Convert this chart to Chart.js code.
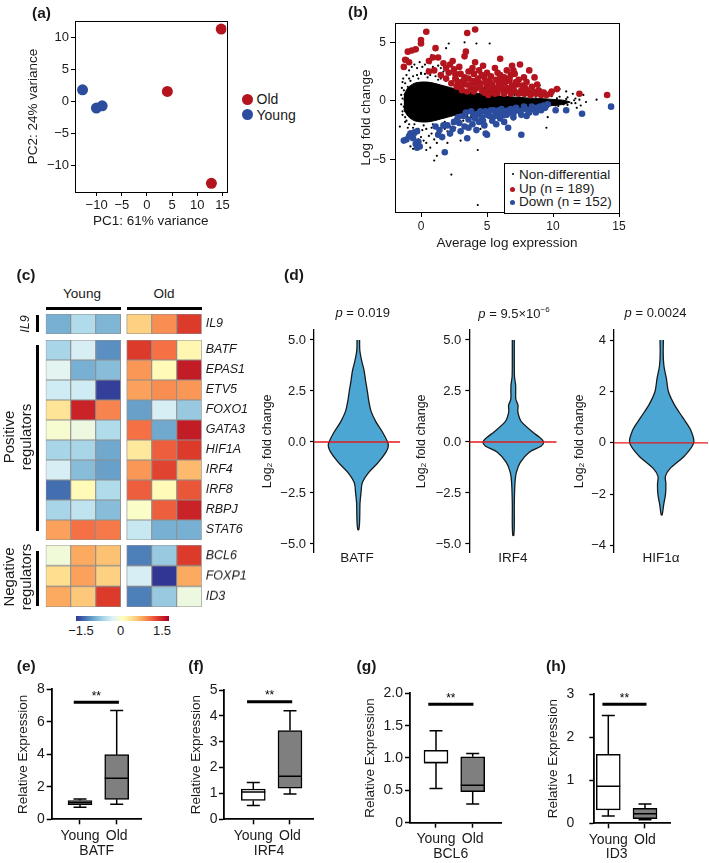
<!DOCTYPE html>
<html><head><meta charset="utf-8">
<script src="https://cdn.jsdelivr.net/npm/chart.js@4.4.1/dist/chart.umd.min.js"></script>
<style>
html,body{margin:0;padding:0;background:#fff}
body{width:709px;height:863px;position:relative;overflow:hidden;font-family:'Liberation Sans',Arial,Helvetica,sans-serif;color:#1a1a1a}
canvas{position:absolute}
.t{position:absolute;white-space:nowrap;transform:translate(-50%,-50%);line-height:1.15}
.l{position:absolute;white-space:nowrap;transform:translate(0,-50%);line-height:1}
.blk{position:absolute;background:#000}
</style></head><body>
<script>
// ---------------- DATA ----------------
// (a) PCA
const pcaOld = [[14.75, 11.25], [4.05, 1.55], [12.8, -12.75]];
const pcaYoung = [[-12.8, 1.8], [-10.05, -1.05], [-8.9, -0.7]];
const pcaXTicks = [-10, -5, 0, 5, 10, 15];
const pcaYTicks = [-10, -5, 0, 5, 10];
// (b) MA plot
const maCoreX     = [-1.3, -1.0, -0.5, 0.0, 0.5, 1.0, 1.5, 2.0, 2.5, 3.0, 4.0, 5.0, 6.0, 7.0, 8.0, 9.0, 10.0, 10.8, 11.3];
const maCoreUpper = [0.5, 1.1, 1.5, 1.6, 1.6, 1.5, 1.35, 1.2, 1.05, 0.9, 0.7, 0.52, 0.42, 0.33, 0.25, 0.2, 0.12, 0.05, -0.1];
const maCoreLower = [-0.7, -1.3, -1.7, -1.8, -1.8, -1.7, -1.55, -1.4, -1.25, -1.1, -0.92, -0.78, -0.68, -0.6, -0.55, -0.5, -0.4, -0.3, -0.1];
const maNonDiff = [
 [-1.5,0.5],[-1.5,-0.3],[-1.45,1.1],[-1.4,-0.9],[-1.2,1.5],[-1.2,-1.4],[-0.9,1.9],[-0.9,-2.0],[-0.6,2.1],[-0.6,-2.3],
 [-0.3,2.2],[-0.3,-2.4],[0.0,2.4],[0.1,-2.5],[0.3,2.3],[0.4,-2.4],[0.7,2.2],[0.8,-2.3],[1.1,2.1],[1.2,-2.2],
 [1.5,1.9],[1.6,-2.0],[1.9,1.7],[2.0,-1.9],[2.3,1.6],[2.4,-1.7],[2.7,1.45],[2.8,-1.55],[3.2,1.3],[3.3,-1.4],
 [3.7,1.15],[3.8,-1.25],[4.3,1.0],[4.4,-1.15],[4.9,0.85],[5.0,-1.0],[5.6,0.72],[5.7,-0.9],[6.3,0.62],[6.4,-0.85],
 [7.1,0.5],[7.2,-0.75],[7.9,0.42],[8.0,-0.7],[8.7,0.35],[8.8,-0.65],[9.5,0.3],[9.6,-0.55],[10.3,0.22],[10.4,-0.45],
 [11.0,0.15],[11.1,-0.35],[11.6,0.05],[11.7,-0.2],
 [-1.35,1.9],[-1.25,0.1],[-1.1,-1.7],[-0.8,1.7],[-0.5,-2.0],[-0.2,1.9],[0.2,-2.1],[0.5,2.0],[0.9,-2.0],[1.3,1.8],
 [1.8,-1.8],[2.2,1.45],[2.6,-1.5],[3.0,1.2],[3.5,-1.3],[4.1,0.9],[4.7,-1.05],[5.3,0.75],[6.0,-0.85],[6.7,0.55],
 [-1.4,1.6],[-1.3,0.9],[-1.4,0.2],[-1.3,-0.5],[-1.4,-1.2],[-1.2,-1.8],[-1.1,2.2],[-1.0,-2.3],[-0.9,2.6],[-0.8,-2.6],
 [-0.7,2.9],[-0.6,-3.0],[-0.5,3.1],[-0.4,-2.9],[-0.3,2.8],[-0.2,-3.3],[-0.1,3.3],[0.0,-3.1],[0.1,2.9],[0.2,-3.4],
 [0.3,3.1],[0.4,-3.6],[0.5,2.7],[0.6,-3.0],[0.7,3.2],[0.8,-2.8],[0.9,2.9],[1.0,-3.3],[1.1,2.6],[1.2,-2.9],
 [1.3,3.0],[1.4,-2.6],[1.5,2.8],[1.6,-2.9],[1.7,2.5],[1.8,-2.4],[1.9,2.6],[2.0,-2.6],[2.1,2.3],[2.2,-2.2],
 [2.3,2.4],[2.4,-2.0],[2.5,2.1],[2.6,-2.3],[2.8,1.9],[2.9,-1.8],[3.1,1.8],[3.2,-1.7],[3.4,1.6],[3.5,-1.5],
 [3.7,1.5],[3.8,-1.4],[4.0,1.4],[4.2,-1.3],[4.4,1.2],[4.6,-1.1],[4.8,1.1],[5.0,-1.0],[5.3,1.0],[5.5,-0.9],
 [5.8,0.9],[6.0,-0.9],[6.3,0.8],[6.6,-0.8],[6.9,0.7],[7.2,-0.7],[7.5,0.6],[7.8,-0.6],[8.1,0.6],[8.4,-0.6],
 [8.7,0.5],[9.0,-0.5],[9.3,0.45],[9.6,-0.45],[9.9,0.4],[10.2,-0.4],[10.5,0.35],[10.8,-0.3],[11.1,0.3],[11.4,-0.2],
 [11.7,0.2],[12.0,0.1],[12.5,-0.1],
 [-0.8,-3.9],[-0.6,-4.1],[0.4,-4.2],[1.2,-4.7],[1.0,-5.1],[2.3,-6.3],[4.3,-8.9],[1.9,4.5],[2.1,4.9],[3.3,5.0],
 [4.2,4.9],[5.2,4.9],[0.8,3.9],[1.2,-3.6],[0.7,-4.0],[4.3,-4.2],[9.5,-2.3],[10.5,1.0],[11.0,0.8],[11.5,0.6],
 [12.3,0.5],[13.3,0.1],[11.8,-0.6],[12.1,-0.4],[10.9,-0.7],[3.0,-3.4],[2.0,-3.6],[-0.2,-2.4],[0.0,2.3],[-1.0,1.2],
 [-1.2,-0.9],[6.5,1.5],[7.0,-1.6],[8.2,-1.2],[5.0,2.4],[4.5,-2.4],[9.0,1.3],[9.6,-1.4],[-1.6,-2.2],[-1.0,3.6]
];
const maUp = [
 [0.4,5.9],[3.5,5.8],[4.1,6.1],[0.0,5.2],[0.0,4.9],[-1.0,4.2],[-0.7,4.3],[-0.4,4.4],[-1.2,3.5],[-1.3,2.9],
 [-0.9,3.3],[1.1,4.5],[0.9,3.7],[1.3,3.7],[1.7,3.2],[0.6,3.4],[2.2,3.1],[3.4,4.2],[3.3,3.8],[6.0,3.6],
 [7.5,3.1],[8.2,2.6],[7.0,2.6],[6.8,2.2],[8.6,2.0],[7.8,2.0],[12.0,0.6],[14.1,0.5],[10.3,1.0],[9.9,0.8],
 [9.8,0.6],[9.0,0.8],[2.9,2.9],[2.5,2.7],[3.0,2.3],[2.1,2.4],[1.0,2.6],[0.6,2.5],[1.9,1.9],[2.6,1.9],
 [3.2,1.7],[3.6,1.9],[4.0,2.3],[4.3,1.9],[4.5,1.5],[4.8,2.0],[5.0,1.3],[5.2,1.7],[5.5,1.1],[5.7,1.8],
 [5.9,1.4],[6.2,1.0],[6.4,1.6],[6.6,0.9],[6.9,1.3],[7.1,0.8],[7.3,1.4],[7.6,0.9],[7.9,1.1],[8.1,0.7],
 [8.4,1.2],[8.7,0.6],[8.9,0.9],[9.3,0.7],[3.0,1.2],[3.4,1.4],[3.8,1.1],[4.1,1.0],[4.6,0.9],[5.3,0.8],
 [5.8,0.7],[6.0,2.2],[6.3,2.0],[5.0,2.4],[4.4,2.6],[3.9,2.8],[2.8,1.6],[7.4,1.8],[5.6,2.8],[6.5,2.6],
 [4.7,3.0],[1.5,2.2],[2.3,1.5],
 [2.7,1.2],[3.1,0.9],[3.5,0.8],[3.3,2.0],[3.7,1.3],[4.2,1.5],[4.0,0.8],[4.5,1.2],[4.9,1.6],[4.8,0.7],
 [5.1,1.0],[5.4,1.4],[5.6,0.6],[5.9,1.0],[6.1,1.3],[6.3,0.6],[6.5,1.1],[6.7,1.7],[6.8,0.6],[7.0,1.0],
 [7.2,1.6],[7.4,0.6],[7.7,1.3],[7.8,0.6],[8.0,0.9],[8.3,0.5],[8.5,0.8],[8.8,1.4],[9.1,0.5],[9.5,0.5],
 [5.3,2.1],[5.8,2.4],[6.7,1.9],[7.1,2.3],[4.1,3.3],[2.6,2.3],[3.6,2.5],[2.4,3.4],[1.9,2.8],[4.6,2.2],
 [6.9,3.0],[8.0,1.6],[6.0,1.7],[5.1,0.5],[3.9,1.7]
];
const maDown = [
 [-1.3,-3.4],[-1.1,-3.3],[-0.8,-2.8],[-0.5,-2.7],[-0.3,-2.6],[-0.6,-3.2],[-0.4,-3.7],[-0.3,-4.0],[-0.1,-3.9],[-0.2,-3.5],
 [1.8,-4.4],[3.5,-3.2],[5.0,-2.9],[4.9,-2.8],[7.6,-2.9],[6.6,-2.3],[1.1,-2.2],[1.4,-2.5],[1.7,-2.1],[2.0,-2.1],
 [2.4,-2.4],[3.3,-2.2],[2.8,-1.4],[3.2,-1.3],[3.6,-1.6],[4.0,-1.2],[4.3,-1.1],[4.6,-1.4],[4.9,-0.9],[5.2,-1.3],
 [5.5,-0.8],[5.8,-1.1],[6.1,-0.7],[6.3,-1.2],[6.6,-0.8],[6.9,-1.0],[7.2,-0.6],[7.5,-0.9],[7.8,-0.5],[8.1,-0.8],
 [8.4,-0.5],[8.7,-1.0],[9.0,-0.5],[9.3,-0.4],[9.6,-0.3],[10.2,-0.8],[11.0,-0.8],[12.2,-1.1],[14.4,-0.5],[3.9,-2.0],
 [4.4,-1.8],[5.4,-1.7],[6.0,-1.5],[7.0,-1.4],[8.0,-1.3],[2.5,-1.8],[3.0,-2.6],[5.7,-2.0],
 [3.4,-1.0],[3.8,-0.9],[4.1,-1.5],[4.5,-0.9],[4.7,-1.7],[5.0,-1.2],[5.3,-0.8],[5.6,-1.3],[5.9,-0.8],[6.2,-1.0],
 [6.5,-1.2],[6.8,-0.7],[7.0,-1.1],[7.3,-0.8],[7.6,-1.2],[7.9,-0.7],[8.2,-1.0],[8.5,-0.7],[8.8,-0.6],[9.1,-0.8],
 [9.4,-0.6],[2.9,-1.9],[3.6,-2.3],[4.2,-2.5],[4.8,-2.1],[6.3,-1.8],[1.3,-2.9],[2.2,-2.8],[1.6,-3.1],[-0.9,-3.0]
];
const maXTicks = [0, 5, 10, 15];
const maYTicks = [-5, 0, 5];
// (c) heatmap (row z-scores)
const heatGenes = ['IL9','BATF','EPAS1','ETV5','FOXO1','GATA3','HIF1A','IRF4','IRF8','RBPJ','STAT6','BCL6','FOXP1','ID3'];
const zYoung = [[-1.0,-0.65,-0.95],[-0.7,-0.4,-1.2],[-0.3,-1.0,-0.9],[-0.45,-0.45,-1.65],[0.3,1.45,0.9],[-0.1,-0.2,-0.65],[-0.7,-0.7,-1.05],[-0.4,-0.9,-1.1],[-1.4,0.05,-0.65],[-0.7,-0.55,-0.9],[0.75,1.0,0.95],[-0.15,0.7,0.55],[0.35,0.75,0.45],[0.7,0.5,1.3]];
const zOld   = [[0.45,0.85,1.3],[1.3,1.0,0.1],[0.8,0.05,1.5],[0.75,0.85,0.8],[-1.1,-0.4,-0.8],[1.0,-1.05,1.5],[0.25,1.1,1.3],[0.8,1.25,0.6],[1.1,0.05,1.15],[-0.05,1.1,1.45],[-0.5,-1.0,-1.0],[-1.3,-0.8,1.3],[-0.4,-1.8,0.7],[-1.3,-0.8,-0.2]];
// (d) violins: y value and half width of density
const batfVY = [5.0,4.5,4.0,3.5,3.0,2.5,2.0,1.5,1.0,0.5,0.0,-0.2,-0.5,-1.0,-1.5,-2.0,-2.5,-3.0,-3.5,-4.0,-4.3];
const batfVW = [1.3,1.5,3.3,5.8,7.3,9.0,10.5,12.8,17.5,24,29.3,30,27.7,20,10.3,4.0,2.7,1.7,1.5,1.2,0.5];
const irf4VY = [5.0,4.0,3.2,2.8,2.4,2.1,1.8,1.5,1.2,1.0,0.5,0.2,0.0,-0.2,-0.5,-1.0,-1.5,-2.0,-3.0,-4.0,-4.58];
const irf4VW = [1.0,1.0,1.2,2.3,2.4,2.5,4.7,4.5,6.0,8.0,19,27,30.3,28,16,7.0,3.0,1.7,1.0,1.0,0.5];
const hifVY = [4.0,3.5,3.0,2.5,2.0,1.5,1.0,0.5,0.0,-0.5,-1.0,-1.3,-1.6,-2.0,-2.4,-2.8];
const hifVW = [1.7,1.5,2.2,4.7,6.7,12.5,20.8,29,32,23,8.3,3.7,4.2,3.8,2.0,0.5];
const violinTicks5 = [-5, -2.5, 0, 2.5, 5];
const violinTicks4 = [-4, -2, 0, 2, 4];
// (e)-(h) box plots: [min, q1, median, q3, max]
const boxGroups = ['Young', 'Old'];
const batfBox = [[0.74, 0.9, 1.02, 1.15, 1.25], [0.92, 1.23, 2.52, 3.98, 6.69]];
const irf4Box = [[0.53, 0.73, 1.06, 1.17, 1.42], [0.98, 1.2, 1.66, 3.43, 4.2]];
const bcl6Box = [[0.53, 0.92, 0.93, 1.12, 1.42], [0.29, 0.48, 0.58, 1.02, 1.07]];
const id3Box  = [[0.17, 0.31, 0.86, 1.6, 2.5], [0.08, 0.11, 0.22, 0.35, 0.45]];
const sigLevels = [7.2, 4.55, 1.83, 2.76];
const batfTicks = [0, 2, 4, 6, 8];
const irf4Ticks = [0, 1, 2, 3, 4, 5];
const bcl6Ticks = [0, 0.5, 1.0, 1.5, 2.0];
const id3Ticks  = [0, 1, 2, 3];

// ---------------- HELPERS ----------------
const RED = '#b3141d', BLUE = '#2c4d9d', VIOLIN = '#4ba6d3', TXT = '#1a1a1a';
const FAM = "'Liberation Sans', Arial, Helvetica, sans-serif";
Chart.defaults.font.family = FAM;
Chart.defaults.color = TXT;
Chart.defaults.animation = false;
Chart.defaults.responsive = false;
Chart.defaults.events = [];
Chart.defaults.plugins.legend.display = false;
Chart.defaults.plugins.tooltip.enabled = false;

const fmt = v => String(v).replace(/-/g, '\u2212');
const setTicks = arr => (s => { s.ticks = arr.map(v => ({value: v})); });

function C(l, t, w, h) {
  const c = document.createElement('canvas');
  c.width = w; c.height = h;
  c.style.left = l + 'px'; c.style.top = t + 'px';
  c.style.width = w + 'px'; c.style.height = h + 'px';
  document.body.appendChild(c);
  return c;
}
function T(html, x, y, css, rot, cls) {
  const d = document.createElement('div');
  d.className = cls || 't';
  d.innerHTML = html;
  d.style.left = x + 'px'; d.style.top = y + 'px';
  if (css) d.style.cssText += css;
  if (rot) d.style.transform = 'translate(-50%,-50%) rotate(-90deg)';
  document.body.appendChild(d);
  return d;
}
function B(l, t, w, h, css) {
  const d = document.createElement('div');
  d.className = 'blk';
  d.style.left = l + 'px'; d.style.top = t + 'px'; d.style.width = w + 'px'; d.style.height = h + 'px';
  if (css) d.style.cssText += css;
  document.body.appendChild(d);
  return d;
}
function hex(c) { return [parseInt(c.slice(1,3),16), parseInt(c.slice(3,5),16), parseInt(c.slice(5,7),16)]; }
const rdylbu = ['#313695','#4575b4','#74add1','#abd9e9','#e0f3f8','#ffffbf','#fee090','#fdae61','#f46d43','#d73027','#a50026'];
function cmap(v) {
  const t = Math.max(0, Math.min(1, (v + 1.7) / 3.4)) * 10;
  const i = Math.min(9, Math.floor(t)), f = t - i;
  const a = hex(rdylbu[i]), b = hex(rdylbu[i + 1]);
  return 'rgb(' + a.map((x, k) => Math.round(x + (b[k] - x) * f)).join(',') + ')';
}

const framePlugin = {
  id: 'frame',
  afterDraw(chart, args, opts) {
    if (!opts || !opts.on) return;
    const {ctx, chartArea: a} = chart;
    ctx.save(); ctx.strokeStyle = '#000'; ctx.lineWidth = 1;
    ctx.strokeRect(Math.round(a.left) + 0.5, Math.round(a.top) + 0.5, Math.round(a.right - a.left), Math.round(a.bottom - a.top));
    ctx.restore();
  }
};
const boxPlugin = {
  id: 'boxExtras',
  afterDatasetsDraw(chart) {
    const ds = chart.data.datasets[0];
    if (!ds || !ds.stats) return;
    const {ctx} = chart, x = chart.scales.x, y = chart.scales.y;
    const meta = chart.getDatasetMeta(0);
    const Y = v => y.getPixelForValue(v);
    ctx.save(); ctx.strokeStyle = '#000'; ctx.lineWidth = 1.5;
    ds.stats.forEach((s, i) => {
      const cx = x.getPixelForValue(i), half = meta.data[i].width / 2, cap = 6.5;
      ctx.beginPath();
      ctx.moveTo(cx, Y(s[4])); ctx.lineTo(cx, Y(s[3]));
      ctx.moveTo(cx, Y(s[1])); ctx.lineTo(cx, Y(s[0]));
      ctx.moveTo(cx - cap, Y(s[4])); ctx.lineTo(cx + cap, Y(s[4]));
      ctx.moveTo(cx - cap, Y(s[0])); ctx.lineTo(cx + cap, Y(s[0]));
      ctx.moveTo(cx - half, Y(s[2])); ctx.lineTo(cx + half, Y(s[2]));
      ctx.stroke();
    });
    if (ds.sig) {
      const [a, b, v] = ds.sig;
      const xa = x.getPixelForValue(a), xb = x.getPixelForValue(b), yy = Y(v);
      ctx.lineWidth = 3; ctx.beginPath(); ctx.moveTo(xa, yy); ctx.lineTo(xb, yy); ctx.stroke();
      ctx.fillStyle = '#000'; ctx.font = '12px ' + FAM; ctx.textAlign = 'center'; ctx.textBaseline = 'middle';
      ctx.fillText('**', (xa + xb) / 2, yy - 6);
    }
    ctx.restore();
  }
};
Chart.register(framePlugin, boxPlugin);

const tickGrid = (len, w) => ({display: true, drawOnChartArea: false, drawTicks: true, tickLength: len, tickColor: '#000', tickWidth: w || 1, color: '#000'});

// ---------------- (a) PCA ----------------
new Chart(C(0, 0, 232, 235), {
  type: 'scatter',
  data: {datasets: [
    {data: pcaOld.map(p => ({x: p[0], y: p[1]})), backgroundColor: RED, pointRadius: 5.5, borderWidth: 0},
    {data: pcaYoung.map(p => ({x: p[0], y: p[1]})), backgroundColor: BLUE, pointRadius: 5.5, borderWidth: 0}
  ]},
  options: {
    layout: {padding: {top: 21, right: 4, left: 0, bottom: 0}},
    plugins: {frame: {on: true}},
    scales: {
      x: {type: 'linear', min: -14.3, max: 15.8, afterFit: s => { s.height = 43; }, afterBuildTicks: setTicks(pcaXTicks),
          ticks: {font: {size: 13}, padding: 2, maxRotation: 0, autoSkip: false, callback: v => fmt(v)},
          grid: tickGrid(4), border: {display: true, color: '#000'},
          title: {display: true, text: 'PC1: 61% variance', font: {size: 13.5}, padding: {top: 0, bottom: 5.9}}},
      y: {type: 'linear', min: -14.1, max: 12.5, afterFit: s => { s.width = 75; }, afterBuildTicks: setTicks(pcaYTicks),
          ticks: {font: {size: 13}, padding: 2, autoSkip: false, callback: v => fmt(v)},
          grid: tickGrid(4), border: {display: true, color: '#000'},
          title: {display: true, text: 'PC2: 24% variance', font: {size: 13.5}, padding: {top: 24.9, bottom: 0}}}
    }
  }
});
B(241.5, 93.5, 11, 11, 'border-radius:50%;background:' + RED);
B(241.5, 109.2, 11, 11, 'border-radius:50%;background:' + BLUE);
T('Old', 256.5, 99.2, 'font-size:14px', false, 'l');
T('Young', 256.5, 114.9, 'font-size:14px', false, 'l');
T('(a)', 41.5, 12.5, 'font-size:15.5px;font-weight:bold');

// ---------------- (b) MA plot ----------------
const maPoly = maCoreX.map((x, i) => ({x, y: maCoreUpper[i]}))
  .concat(maCoreX.map((x, i) => ({x, y: maCoreLower[i]})).reverse());
new Chart(C(340, 0, 290, 262), {
  type: 'scatter',
  data: {datasets: [
    {type: 'line', data: maPoly, fill: 'shape', backgroundColor: '#000', borderColor: '#000', borderWidth: 1, pointRadius: 0, tension: 0.3, order: 4},
    {data: maNonDiff.map(p => ({x: p[0], y: p[1]})), backgroundColor: '#000', pointRadius: 1.1, borderWidth: 0, order: 3},
    {data: maUp.map(p => ({x: p[0], y: p[1]})), backgroundColor: RED, pointRadius: 3.3, borderWidth: 0, order: 2},
    {data: maDown.map(p => ({x: p[0], y: p[1]})), backgroundColor: BLUE, pointRadius: 3.3, borderWidth: 0, order: 1}
  ]},
  options: {
    layout: {padding: {top: 23, right: 11, left: 0, bottom: 0}},
    plugins: {frame: {on: true}},
    scales: {
      x: {type: 'linear', min: -1.97, max: 15.0, afterFit: s => { s.height = 50; }, afterBuildTicks: setTicks(maXTicks),
          ticks: {font: {size: 12}, padding: 2, maxRotation: 0, autoSkip: false, callback: v => fmt(v)},
          grid: tickGrid(5), border: {display: true, color: '#000'},
          title: {display: true, text: 'Average log expression', font: {size: 13.5}, padding: {top: 0, bottom: 10.9}}},
      y: {type: 'linear', min: -9.5, max: 6.65, afterFit: s => { s.width = 55; }, afterBuildTicks: setTicks(maYTicks),
          ticks: {font: {size: 12}, padding: 4, autoSkip: false, callback: v => fmt(v)},
          grid: tickGrid(5), border: {display: true, color: '#000'},
          title: {display: true, text: 'Log fold change', font: {size: 13.5}, padding: {top: 17.9, bottom: 0}}}
    }
  }
});
B(504, 162.5, 114, 49, 'background:#fff;border:1px solid #000;');
B(511.5, 173, 2, 2, 'border-radius:50%');
B(510, 186.5, 5, 5, 'border-radius:50%;background:' + RED);
B(510, 199.5, 5, 5, 'border-radius:50%;background:' + BLUE);
T('Non-differential', 519, 174.5, 'font-size:13.5px', false, 'l');
T('Up (n = 189)', 519, 189, 'font-size:13.5px', false, 'l');
T('Down (n = 152)', 519, 202, 'font-size:13.5px', false, 'l');
T('(b)', 358, 12, 'font-size:15.5px;font-weight:bold');

// ---------------- (c) heatmap ----------------
const heatGap = 0.24;
function heat(top, h, rows) {
  const ds = [];
  for (let col = 0; col < 6; col++) {
    const x0 = col < 3 ? col : col + heatGap;
    ds.push({
      data: rows.map(() => [x0, x0 + 1]),
      backgroundColor: rows.map(r => cmap(col < 3 ? zYoung[r][col] : zOld[r][col - 3])),
      borderColor: '#8e8e8e', borderWidth: 0.9, borderSkipped: false,
      grouped: false, categoryPercentage: 1, barPercentage: 1
    });
  }
  new Chart(C(40, top, 225, h), {
    type: 'bar',
    data: {labels: rows.map(r => heatGenes[r]), datasets: ds},
    options: {
      indexAxis: 'y',
      layout: {padding: {left: 5.7, top: 2, bottom: 2, right: 0}},
      scales: {
        x: {type: 'linear', min: 0, max: 3 + heatGap + 3, display: false},
        y: {position: 'right', afterFit: s => { s.width = 63.3; s.paddingTop = 0; s.paddingBottom = 0; },
            grid: {display: false, drawTicks: false}, border: {display: false},
            ticks: {font: {size: 12.5, style: 'italic'}, color: TXT, padding: 4, autoSkip: false}}
      }
    }
  });
}
heat(312, 24.3, [0]);
heat(338, 204, [1,2,3,4,5,6,7,8,9,10]);
heat(543.3, 65.4, [11,12,13]);
T('Young', 82, 294, 'font-size:13.5px');
T('Old', 164, 294, 'font-size:13.5px');
B(46, 306.5, 75, 3); B(127, 306.5, 75, 3);
B(36.2, 315, 3, 16.5); B(36.2, 345, 3, 186); B(36.2, 551, 3, 55);
T('IL9', 24.5, 324, 'font-size:12.5px;font-style:italic', true);
T('Positive<br>regulators', 17, 437, 'font-size:15px;line-height:17px;text-align:center', true);
T('Negative<br>regulators', 17, 577, 'font-size:15px;line-height:17px;text-align:center', true);
B(76, 616, 93, 5, 'background:linear-gradient(to right,' + rdylbu.join(',') + ')');
T('\u22121.5', 81, 631, 'font-size:13px');
T('0', 120.7, 631, 'font-size:13px');
T('1.5', 162, 631, 'font-size:13px');
T('(c)', 26, 275, 'font-size:15.5px;font-weight:bold');

// ---------------- (d) violins ----------------
function violinChart(left, width, padRight, ys, ws, ticks, yMin, yMax, dec, xMin, xMax, name, titlePad) {
  const poly = ys.map((y, i) => ({x: ws[i], y})).concat(ys.map((y, i) => ({x: -ws[i], y})).reverse());
  new Chart(C(left, 295, width, 275), {
    type: 'scatter',
    data: {datasets: [
      {type: 'line', data: poly, fill: 'shape', backgroundColor: VIOLIN, borderColor: '#1a1a1a', borderWidth: 1.3, pointRadius: 0, tension: 0.3, order: 2},
      {type: 'line', data: [{x: xMin, y: 0}, {x: xMax, y: 0}], borderColor: '#e3191c', borderWidth: 1.4, pointRadius: 0, fill: false, order: 1}
    ]},
    options: {
      layout: {padding: {top: 35, right: padRight, left: 0, bottom: 0}},
      scales: {
        x: {type: 'linear', min: xMin, max: xMax, afterFit: s => { s.height = 17.3; },
            grid: {display: false, drawTicks: false}, border: {display: false}, ticks: {display: false},
            title: {display: true, text: name, font: {size: 13.5}, padding: {top: 0, bottom: 3.9}}},
        y: {type: 'linear', min: yMin, max: yMax, afterFit: s => { s.width = left === 400 ? 69.3 : 69; }, afterBuildTicks: setTicks(ticks),
            ticks: {font: {size: 13}, padding: 4, autoSkip: false, callback: v => fmt(v.toFixed(dec))},
            grid: tickGrid(4, 1.2), border: {display: true, color: '#000', width: 1.3},
            title: {display: true, text: 'Log\u2082 fold change', font: {size: 12.5}, padding: {top: titlePad, bottom: 0}}}
      }
    }
  });
}
violinChart(245, 160, 5, batfVY, batfVW, violinTicks5, -5.43, 5.49, 1, -44.3, 41.7, 'BATF', 15.5);
violinChart(400, 160, 3.3, irf4VY, irf4VW, violinTicks5, -5.43, 5.49, 1, -44, 43.4, 'IRF4', 14.2);
violinChart(545, 164, 1, hifVY, hifVW, violinTicks4, -4.27, 4.39, 0, -47.7, 46.3, 'HIF1\u03b1', 27.5);
T('<i>p</i> = 0.019', 362.7, 312.7, 'font-size:13px');
T('<i>p</i> = 9.5\u00d710<sup style="font-size:8px;vertical-align:6px">\u22126</sup>', 514, 312.7, 'font-size:13px');
T('<i>p</i> = 0.0024', 655.5, 312.7, 'font-size:13px');
T('(d)', 294, 275, 'font-size:15.5px;font-weight:bold');

// ---------------- (e)-(h) box plots ----------------
function boxChart(left, top, w, h, g, stats, ticks, yMax, yLabel, sigY) {
  new Chart(C(left, top, w, h), {
    type: 'bar',
    data: {datasets: [{
      data: stats.map((s, i) => ({x: i, y: [s[1], s[3]]})),
      stats: stats, sig: [g.sigFrom, g.sigTo, sigY],
      backgroundColor: ['#ffffff', '#7f7f7f'], borderColor: '#000', borderWidth: 1.5, borderSkipped: false, barThickness: 24
    }]},
    options: {
      layout: {padding: {top: g.padTop, right: g.padRight, left: 0, bottom: 0}},
      scales: {
        x: {type: 'linear', offset: false, min: g.xMin, max: g.xMax, afterFit: s => { s.height = g.xh; }, afterBuildTicks: setTicks([0, 1]),
            ticks: {callback: v => boxGroups[v], font: {size: 14}, padding: 3, maxRotation: 0, autoSkip: false},
            grid: Object.assign(tickGrid(5, 1.5), {offset: false}), border: {display: true, color: '#000', width: 1.8}},
        y: {type: 'linear', min: 0, max: yMax, afterFit: s => { s.width = g.yw; }, afterBuildTicks: setTicks(ticks),
            ticks: {callback: yLabel, font: {size: 14}, padding: g.tickPad, autoSkip: false},
            grid: tickGrid(5, 1.5), border: {display: true, color: '#000', width: 1.8},
            title: {display: true, text: 'Relative Expression', font: {size: 13.5}, padding: {top: g.titlePad, bottom: 0}}}
      }
    }
  });
}
const intLabel = v => String(v);
const decLabel = v => v === 0 ? '0' : v.toFixed(1);
boxChart(0, 640, 150, 220, {yw: 51.7, padTop: 49.3, padRight: 8.3, xh: 40.7, xMin: -0.771, xMax: 1.681, titlePad: 14.9, tickPad: 2, sigFrom: -0.17, sigTo: 1.06}, batfBox, batfTicks, 8, intLabel, sigLevels[0]);
boxChart(172, 640, 150, 220, {yw: 52, padTop: 50, padRight: 8.7, xh: 40.7, xMin: -0.798, xMax: 1.635, titlePad: 16.6, tickPad: 1.5, sigFrom: -0.17, sigTo: 1.06}, irf4Box, irf4Ticks, 5, intLabel, sigLevels[1]);
boxChart(350, 640, 160, 225, {yw: 60, padTop: 53.3, padRight: 8.3, xh: 42.3, xMin: -0.708, xMax: 1.79, titlePad: 11.9, tickPad: 2, sigFrom: -0.21, sigTo: 1.02}, bcl6Box, bcl6Ticks, 2, decLabel, sigLevels[2]);
boxChart(540, 640, 140, 225, {yw: 54.3, padTop: 54, padRight: 10, xh: 41.7, xMin: -0.381, xMax: 1.681, titlePad: 5.2, tickPad: 15, sigFrom: -0.16, sigTo: 1.04}, id3Box, id3Ticks, 3, intLabel, sigLevels[3]);
T('BATF', 96.7, 849.5, 'font-size:14px');
T('IRF4', 269, 849.5, 'font-size:14px');
T('BCL6', 450.7, 852.5, 'font-size:14px');
T('ID3', 616.7, 852.5, 'font-size:14px');
T('(e)', 26.3, 665.8, 'font-size:15.5px;font-weight:bold');
T('(f)', 196, 665.8, 'font-size:15.5px;font-weight:bold');
T('(g)', 366.5, 666, 'font-size:15.5px;font-weight:bold');
T('(h)', 556, 666, 'font-size:15.5px;font-weight:bold');
</script>
</body></html>
